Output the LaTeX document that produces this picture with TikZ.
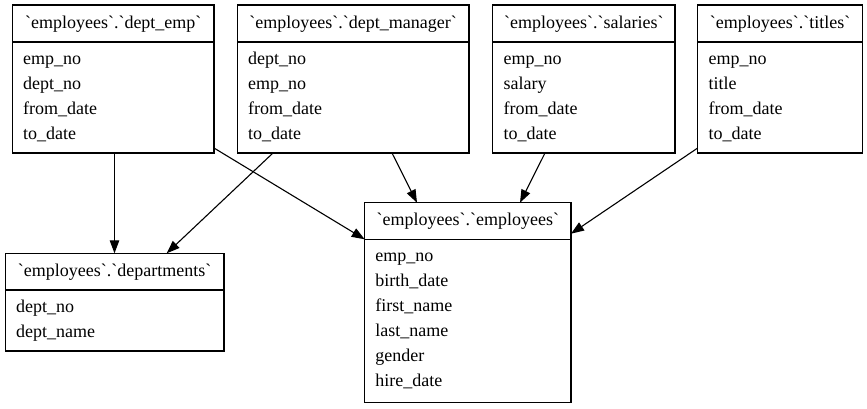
\documentclass[tikz,border=0pt]{standalone}
\usepackage{fontspec}
\setmainfont{Liberation Serif}[Ligatures=TeXOff]
\usetikzlibrary{arrows.meta}
\begin{document}
\begin{tikzpicture}[x=1pt,y=-1pt,
  tbl/.style={draw=black,line width=1.1pt,rectangle,anchor=north west,inner sep=0pt,outer sep=0pt},
  hdr/.style={anchor=base,inner sep=0pt,font=\fontsize{18pt}{20pt}\selectfont},
  fld/.style={anchor=base west,inner sep=0pt,font=\fontsize{18pt}{20pt}\selectfont},
  sep/.style={line width=1.1pt},
  rel/.style={line width=1.1pt,-{Triangle[length=13pt,width=9.5pt]}}]
\useasboundingbox (0,0) rectangle (867,408);
% dept_emp
\node[tbl,minimum width=201.5pt,minimum height=148pt] (demp) at (12.5,5) {};
\draw[sep] (demp.west |- 0,42) -- (demp.east |- 0,42);
\node[hdr] (dempH) at (113.25,28.5) {`employees`.`dept\_emp`};
\node[fld] (dempA) at (23,64) {emp\_no};
\node[fld] (dempB) at (23,89) {dept\_no};
\node[fld] (dempC) at (23,114) {from\_date};
\node[fld] (dempD) at (23,139) {to\_date};
% dept_manager
\node[tbl,minimum width=231.7pt,minimum height=148pt] (dmgr) at (237.3,5) {};
\draw[sep] (dmgr.west |- 0,42) -- (dmgr.east |- 0,42);
\node[hdr] (dmgrH) at (353.15,28.5) {`employees`.`dept\_manager`};
\node[fld] (dmgrA) at (248,64) {dept\_no};
\node[fld] (dmgrB) at (248,89) {emp\_no};
\node[fld] (dmgrC) at (248,114) {from\_date};
\node[fld] (dmgrD) at (248,139) {to\_date};
% salaries
\node[tbl,minimum width=182.3pt,minimum height=148pt] (sal) at (492.7,5) {};
\draw[sep] (sal.west |- 0,42) -- (sal.east |- 0,42);
\node[hdr] (salH) at (583.85,28.5) {`employees`.`salaries`};
\node[fld] (salA) at (503.5,64) {emp\_no};
\node[fld] (salB) at (503.5,89) {salary};
\node[fld] (salC) at (503.5,114) {from\_date};
\node[fld] (salD) at (503.5,139) {to\_date};
% titles
\node[tbl,minimum width=164.6pt,minimum height=148pt] (tit) at (697.7,5) {};
\draw[sep] (tit.west |- 0,42) -- (tit.east |- 0,42);
\node[hdr] (titH) at (780,28.5) {`employees`.`titles`};
\node[fld] (titA) at (708.5,64) {emp\_no};
\node[fld] (titB) at (708.5,89) {title};
\node[fld] (titC) at (708.5,114) {from\_date};
\node[fld] (titD) at (708.5,139) {to\_date};
% departments
\node[tbl,minimum width=218.7pt,minimum height=97.7pt] (dep) at (5.3,253.3) {};
\draw[sep] (dep.west |- 0,290) -- (dep.east |- 0,290);
\node[hdr] (depH) at (114.65,276.3) {`employees`.`departments`};
\node[fld] (depA) at (16,312) {dept\_no};
\node[fld] (depB) at (16,337) {dept\_name};
% employees
\node[tbl,minimum width=206.3pt,minimum height=199.6pt] (emp) at (364.7,202.7) {};
\draw[sep] (emp.west |- 0,239.3) -- (emp.east |- 0,239.3);
\node[hdr] (empH) at (467.85,225.5) {`employees`.`employees`};
\node[fld] (empA) at (375.2,261.5) {emp\_no};
\node[fld] (empB) at (375.2,286.5) {birth\_date};
\node[fld] (empC) at (375.2,311.5) {first\_name};
\node[fld] (empD) at (375.2,336.5) {last\_name};
\node[fld] (empE) at (375.2,361.5) {gender};
\node[fld] (empF) at (375.2,386.5) {hire\_date};
% relations
\draw[rel] ([xshift=102pt]demp.south west) -- ([xshift=109.2pt]dep.north west);
\draw[rel] ([yshift=5pt]demp.south east) -- ([yshift=-36.6pt]emp.north west);
\draw[rel] ([xshift=35.7pt]dmgr.south west) -- ([xshift=161.4pt]dep.north west);
\draw[rel] ([xshift=154.7pt]dmgr.south west) -- ([xshift=52.3pt]emp.north west);
\draw[rel] ([xshift=52.3pt]sal.south west) -- ([xshift=155.3pt]emp.north west);
\draw[rel] ([yshift=5pt]tit.south west) -- ([yshift=-31pt]emp.north east);
\end{tikzpicture}
\end{document}
